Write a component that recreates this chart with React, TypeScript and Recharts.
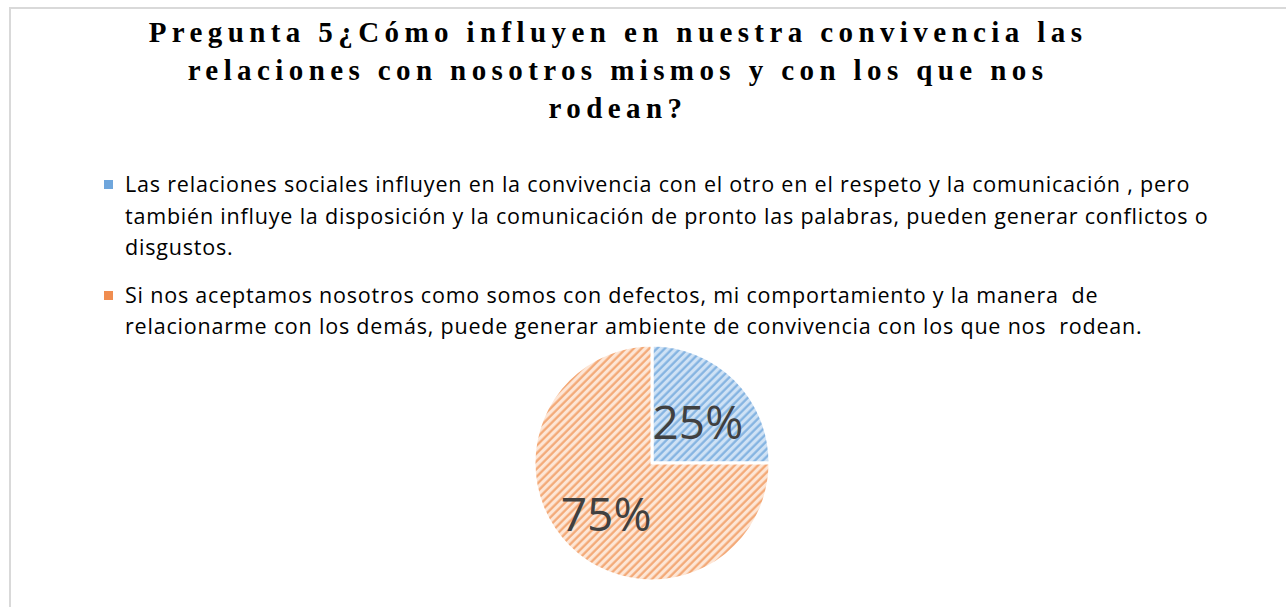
import { PieChart, Pie, Cell } from "recharts";

const categories = [
    "Las relaciones sociales influyen en la convivencia con el otro en el respeto y la comunicación , pero\ntambién influye la disposición y la comunicación de pronto las palabras, pueden generar conflictos o\ndisgustos.",
    "Si nos aceptamos nosotros como somos con defectos, mi comportamiento y la manera  de\nrelacionarme con los demás, puede generar ambiente de convivencia con los que nos  rodean.",
];
const values = [25, 75];
const percentLabels = ["25%", "75%"];

const titleLines = [
    "Pregunta 5¿Cómo influyen en nuestra convivencia las",
    "relaciones con nosotros mismos y con los que nos",
    "rodean?",
];

const baseColors = ["#cfe2f5", "#fde6d6"];
const stripeColors = ["#80b1e0", "#f3a672"];
const markerColors = ["#6fa6dc", "#f08d50"];

const data = categories.map((name, i) => ({ name, value: values[i], label: percentLabels[i] }));

const RADIAN = Math.PI / 180;

const renderLabel = (props: any) => {
    const { cx, cy, midAngle, outerRadius, index } = props;
    const r = outerRadius * 0.55;
    const x = cx + r * Math.cos(-midAngle * RADIAN);
    const y = cy + r * Math.sin(-midAngle * RADIAN) + 4;
    return (
        <text
            x={x}
            y={y}
            fill="#404040"
            fontSize={46}
            fontFamily="'Open Sans', sans-serif"
            textAnchor="middle"
            dominantBaseline="central"
        >
            {data[index].label}
        </text>
    );
};

// legend drawn as plain html so it doesn't push the pie around
const LegendBlock = () => (
    <div
        style={{
            position: "absolute",
            top: 168,
            left: 104,
            fontFamily: "'Open Sans', sans-serif",
            fontSize: 21.5,
            letterSpacing: 0.8,
            color: "#000",
            lineHeight: "31.5px",
        }}
    >
        {categories.map((name, i) => (
            <div key={i} style={{ display: "flex", alignItems: "flex-start", marginBottom: 16 }}>
                <div
                    style={{
                        width: 9,
                        height: 9,
                        background: markerColors[i],
                        marginTop: 12,
                        marginRight: 12,
                        flexShrink: 0,
                    }}
                />
                <div style={{ whiteSpace: "pre" }}>{name}</div>
            </div>
        ))}
    </div>
);

export default function App() {
    return (
        <div style={{ position: "absolute", left: 0, top: 0, width: 1286, height: 607, background: "#fff", overflow: "hidden" }}>
            <div
                style={{
                    position: "absolute",
                    left: 9,
                    top: 7,
                    width: 1300,
                    height: 620,
                    border: "2px solid #d9d9d9",
                }}
            />
            <div
                style={{
                    position: "absolute",
                    left: 0,
                    top: 13,
                    width: 1236,
                    textAlign: "center",
                    fontFamily: "'Liberation Serif', 'Times New Roman', serif",
                    fontWeight: "bold",
                    fontSize: 29,
                    letterSpacing: 5.4,
                    lineHeight: "38px",
                    color: "#000",
                }}
            >
                {titleLines.map((t, i) => (
                    <div key={i}>{t}</div>
                ))}
            </div>
            <LegendBlock />
            <div style={{ position: "absolute", left: 0, top: 0 }}>
                <PieChart width={1286} height={607} margin={{ top: 0, right: 0, bottom: 0, left: 0 }}>
                    <defs>
                        {baseColors.map((c, i) => (
                            <pattern
                                key={i}
                                id={`stripe${i}`}
                                width={5.5}
                                height={5.5}
                                patternUnits="userSpaceOnUse"
                                patternTransform="rotate(45)"
                            >
                                <rect width={5.5} height={5.5} fill={c} />
                                <line x1={1.5} y1={0} x2={1.5} y2={5.5} stroke={stripeColors[i]} strokeWidth={2.2} />
                            </pattern>
                        ))}
                    </defs>
                    <Pie
                        data={data}
                        dataKey="value"
                        nameKey="name"
                        cx={652}
                        cy={463}
                        outerRadius={118}
                        startAngle={90}
                        endAngle={-270}
                        stroke="#fff"
                        strokeWidth={3}
                        label={renderLabel}
                        labelLine={false}
                        isAnimationActive={false}
                    >
                        {data.map((_, i) => (
                            <Cell key={i} fill={`url(#stripe${i})`} />
                        ))}
                    </Pie>
                </PieChart>
            </div>
        </div>
    );
}
